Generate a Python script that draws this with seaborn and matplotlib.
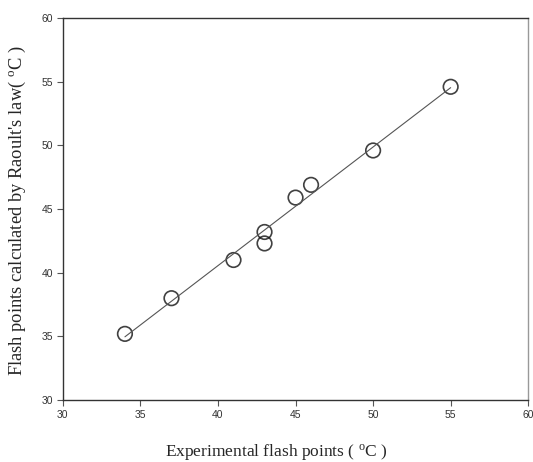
import numpy as np
import pandas as pd
import matplotlib
matplotlib.use("Agg")
import matplotlib.pyplot as plt
import seaborn as sns

experimental = [34, 37, 41, 43, 43, 45, 46, 50, 55]
calculated = [35.2, 38.0, 41.0, 43.2, 42.3, 45.9, 46.9, 49.6, 54.6]
ticks = [30, 35, 40, 45, 50, 55, 60]

df = pd.DataFrame({"exp": experimental, "calc": calculated})

sns.set_style("white")
plt.rcParams["mathtext.fontset"] = "custom"
plt.rcParams["mathtext.rm"] = "Liberation Serif"

fig = plt.figure(figsize=(5.33, 4.62), dpi=100)
ax = fig.add_axes([0.118, 0.134, 0.873, 0.827])

sns.regplot(data=df, x="exp", y="calc", ci=None, ax=ax,
            scatter_kws=dict(s=110, facecolors="none", edgecolors="#111111", linewidths=1.2),
            line_kws=dict(color="#555555", lw=0.8), marker="o")

ax.set_xlim(30, 60)
ax.set_ylim(30, 60)
ax.set_xticks(ticks)
ax.set_yticks(ticks)
ax.tick_params(axis="both", direction="out", length=4, width=0.8, color="#555555",
               labelsize=7.5, labelcolor="#333333", bottom=True, left=True, pad=3)
for lab in ax.get_xticklabels() + ax.get_yticklabels():
    lab.set_family(["Liberation Sans", "DejaVu Sans"])

for side in ["left", "bottom", "top"]:
    ax.spines[side].set_color("#333333")
    ax.spines[side].set_linewidth(1.0)
ax.spines["right"].set_color("#999999")
ax.spines["right"].set_linewidth(1.0)

ax.set_xlabel(r"Experimental flash points ( $\mathregular{^{o}}$C )",
              family=["Liberation Serif", "DejaVu Serif"], fontsize=12.5)
ax.set_ylabel(r"Flash points calculated by Raoult's law( $\mathregular{^{o}}$C )",
              family=["Liberation Serif", "DejaVu Serif"], fontsize=13.3)
ax.xaxis.set_label_coords(0.458, -0.136)
ax.xaxis.label.set_va("center")
ax.yaxis.set_label_coords(-0.097, 0.497)
ax.yaxis.label.set_va("center")

fig.savefig("out.png", dpi=100)
